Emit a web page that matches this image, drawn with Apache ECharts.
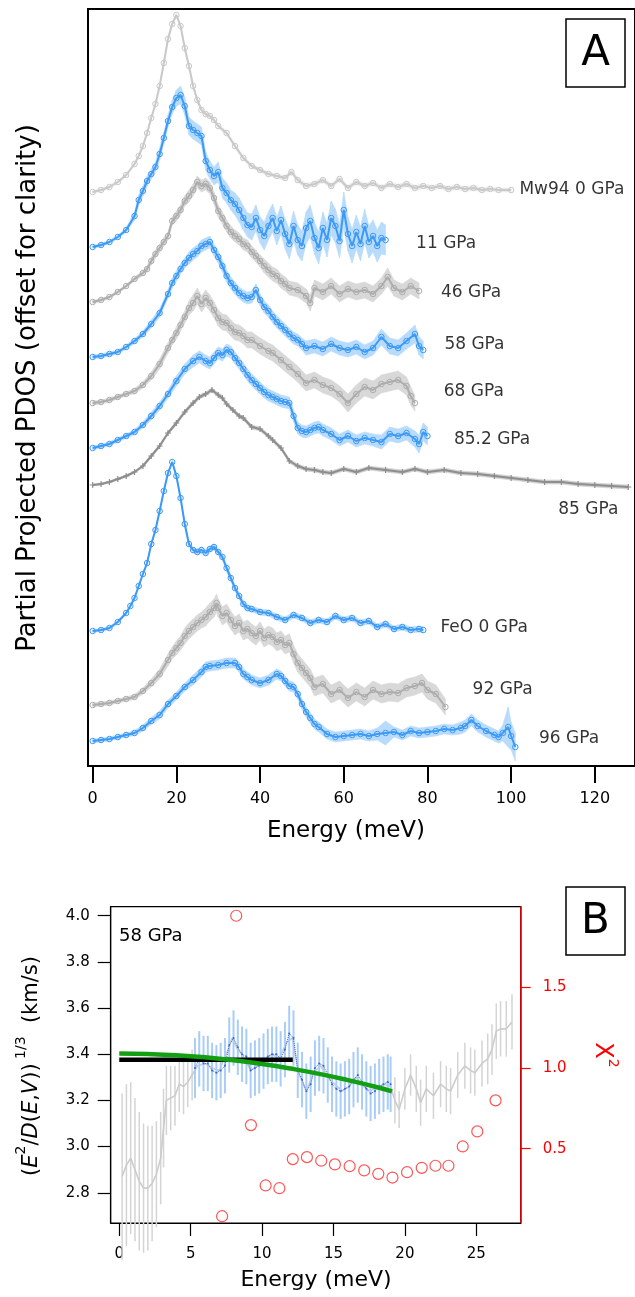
<!DOCTYPE html>
<html><head><meta charset="utf-8">
<script src="https://cdn.jsdelivr.net/npm/echarts@6/dist/echarts.min.js"></script>
<style>html,body{margin:0;padding:0;background:#fff}#c{width:635px;height:1297px}</style>
</head><body><div id="c"></div>
<script>
// ---------- Panel A : PDOS curves, [energy meV, offset value, error] ----------
const xTicksA = [0, 20, 40, 60, 80, 100, 120];
const mw94 = [[0,574,1.5],[2,576,1.5],[4,579,1.5],[6,584,1.5],[8,591,1.5],[10,602,1.5],[11,610,1.5],[12,620,1.5],[13,633,1.5],[14,648,1.5],[15,662,1.5],[16,680,1.5],[17,703,1.5],[18,727,1.5],[19,742,1.5],[20,751,1.5],[21,740,1.5],[22,718,1.5],[23,700,1.5],[24,680,2],[25,666,2],[26,656,2],[27,652,2],[28,650,2],[29,646,2],[30,640,2],[32,633,2],[34,620,2],[36,608,2],[38,600,2],[40,596,2],[42,592,2],[44,590,2],[46,588,2.5],[47.5,594,2.5],[49,586,2.5],[51,580,2.5],[53,582,2.5],[55,586,2.5],[57,580,2.5],[59,587,2.5],[61,578,2.5],[63,584,2.5],[65,580,2.5],[67,583,2.5],[69,578,2.5],[71,582,2.5],[73,579,2.5],[75,582,2.5],[77,578,2.5],[79,580,2.5],[81,578,2.5],[83,580,2.5],[85,577,2.5],[87,579,2.5],[89,577,2.5],[91,578,2.5],[93,576,2],[95,577,2],[97,576,2],[100,576,2]];
const p11 = [[0,519,1.5],[2,521,1.5],[4,524,1.5],[6,529,1.5],[8,536,2],[10,550,4],[11,566,5],[12,575,5],[13,585,5],[14,592,5],[15,599,5],[16,612,6],[17,628,6],[18,645,6],[19,659,7],[20,668,8],[21,671,9],[22,660,9],[23,640,9],[24,636,9],[25,633,9],[26,630,9],[27,605,9],[28,596,9],[29,590,9],[30,594,10],[31,578,10],[32,573,10],[33,566,10],[34,562,11],[35,556,12],[36,548,12],[37,541,12],[38,539,13],[39,548,13],[40,536,13],[41,530,14],[42,540,14],[43,548,14],[44,535,14],[45,546,14],[46,532,15],[47,522,15],[48,540,15],[49,526,15],[50,520,15],[51,538,16],[52,545,16],[53,528,16],[54,518,16],[55,538,16],[56,526,17],[57,548,17],[58,540,17],[59,525,17],[60,556,18],[61,532,17],[62,520,17],[63,534,17],[64,522,17],[65,540,17],[66,524,16],[67,530,16],[68,520,16],[69,528,16],[70,526,15]];
const p46 = [[0,464,1.5],[2,466,1.5],[4,469,1.5],[6,474,1.5],[8,480,1.5],[10,487,2],[12,493,2.5],[13,497,3],[14,505,3.5],[15,512,4],[16,518,4],[17,524,4],[18,530,4],[19,545,4],[20,550,5],[21,556,5],[22,565,5],[23,570,6],[24,576,6],[25,584,6],[26,580,6],[27,582,6],[28,578,6],[29,568,6],[30,555,6],[31,548,6],[32,540,6],[33,534,6],[34,530,6],[35,527,6],[36,522,6],[37,520,6],[38,514,6],[39,510,6],[40,505,6],[41,500,7],[42,496,7],[43,492,7],[44,490,7],[45,485,7],[46,482,7],[47,478,7],[49,476,7],[51,470,7],[52,463,8],[53,478,8],[55,474,8],[57,480,8],[59,472,8],[61,477,8],[63,474,8],[65,476,8],[67,472,8],[69,480,8],[70.5,489,9],[72,478,8],[74,474,8],[76,480,8],[78,475,8]];
const p58 = [[0,409,2],[2,410,2],[4,412,2],[6,414,2],[8,419,2],[10,425,2.5],[12,432,3],[14,442,4],[16,453,4],[18,472,4],[19,483,5],[20,490,5],[21,497,5],[22,503,5],[23,508,6],[24,512,6],[25,515,6],[26,520,6],[27,522,6],[28,524,6],[29,516,6],[30,509,6],[31,500,6],[32,490,6],[33,483,6],[34,478,6],[35,473,6],[36,470,6],[37,468,6],[38,469,6],[39,476,6],[40,466,6],[41,459,6],[42,455,6],[43,449,6],[44,444,6],[45,440,6],[46,436,6],[47,432,6],[48,428,6],[49,426,6],[50,422,6],[51,418,7],[53,420,7],[55,417,7],[57,422,7],[59,418,7],[61,416,7],[63,419,7],[65,414,7],[67,418,7],[69,429,8],[71,420,8],[73,418,8],[75,425,8],[77,432,9],[78,420,9],[79,416,9]];
const p68 = [[0,363,2],[2,364,2],[4,366,2],[6,369,2],[8,372,2],[10,375,2.5],[12,381,3],[14,390,4],[16,402,5],[18,418,5],[19,426,5],[20,433,6],[21,441,6],[22,449,6],[23,458,7],[24,463,8],[25,470,8],[26,462,8],[27,468,8],[28,463,8],[29,456,8],[30,448,8],[31,444,8],[32,443,8],[33,438,8],[34,434,8],[35,433,8],[36,430,8],[37,426,8],[38,426,8],[40,420,8],[42,415,8],[43,413,8],[45,406,8],[47,399,8],[49,392,8],[51,383,8],[53,386,8],[55,381,8],[57,378,8],[59,372,8],[61,363,9],[63,372,9],[65,379,9],[67,376,9],[69,382,9],[71,384,9],[73,386,9],[75,380,9],[76,370,9],[77,363,8]];
const p852 = [[0,318,2],[2,320,2],[4,322,2],[6,326,2],[8,330,2],[10,334,2.5],[12,341,3],[14,350,4],[16,360,4],[18,372,4],[20,385,5],[22,397,5],[24,405,6],[25.5,409,6],[27,405,6],[28,403,6],[29,408,6],[30,413,6],[31,411,6],[32,416,6],[33,414,6],[34,408,6],[35,403,6],[36,397,6],[37,391,6],[38,386,6],[39,382,6],[40,378,6],[41,374,6],[42,371,6],[43,369,6],[44,367,6],[45,365,6],[46,364,6],[47,363,6],[48,350,6],[49,338,6],[50,335,6],[51,334,6],[52,336,6],[53,338,6],[54,339,6],[55,336,6],[57,332,6],[59,326,6],[61,330,6],[63,325,6],[65,328,6],[67,326,6],[69,324,7],[71,332,7],[73,330,7],[75,333,7],[77,327,8],[78,322,9],[79,334,9],[80,330,9]];
const p85 = [[0,281,1],[2,282,1],[4,284,1],[6,287,1],[8,290,1],[10,294,1],[12,300,1.5],[14,310,1.5],[16,320,1.5],[18,333,1.5],[20,343,2],[22,354,2],[24,363,2],[25.5,369,2],[27,372,2],[28.5,376,2],[30,371,2],[31,368,2],[32,362,2],[33.5,356,2],[35,350,2],[36,348,2],[38,339,2],[40,337,2],[42,330,2],[43,326,2],[45,318,2],[47,305,2],[49,300,2],[51,297,2],[53,296,2],[55,294,2],[57,293,2],[60,297,2],[63,294,2],[66,298,2],[70,296,2],[74,294,2],[77,297,2],[80,294,2],[84,296,2],[88,293,2],[92,292,2],[96,290,2],[100,288,2],[104,286,2],[108,284,2],[112,284,2],[116,282,2],[120,281,2],[124,280,2],[128,279,2]];
const feo = [[0,135,1.5],[2,136,1.5],[4,138,1.5],[6,144,1.5],[8,153,1.5],[9,160,1.5],[10,168,1.5],[11,180,1.5],[12,192,1.5],[13,203,1.5],[14,222,1.5],[15,236,1.5],[16,255,1.5],[17,275,1.5],[18,293,1.5],[19,304,1.5],[20,290,1.5],[21,268,1.5],[22,242,2],[23,222,2],[24,216,2.5],[25,214,3],[26,216,3],[27,213,3],[28,217,3],[29,219,3],[30,214,3],[31,209,3],[32,198,3],[33,188,3],[34,178,3],[35,170,3],[36,162,3],[37,158,3],[38,157,3],[40,154,3],[42,153,3],[44,149,3],[46,146,3],[48,151,3],[50,148,3],[52,143,3],[54,146,3],[56,144,3],[58,150,3],[60,146,3],[62,148,3],[64,143,3],[66,145,3],[68,139,3],[70,142,3],[72,137,3],[74,139,3],[76,136,3],[78,137,3],[79,136,3]];
const p92 = [[0,61,2],[2,62,2],[4,63,2],[6,65,2],[8,67,2],[10,69,2.5],[12,75,3],[14,83,4],[16,92,5],[18,106,6],[19,113,6],[20,118,7],[21,123,7],[22,130,8],[23,135,8],[24,139,8],[25,143,8],[26,146,8],[27,149,9],[28,154,9],[29,158,9],[29.6,163,9],[30,158,9],[31,150,9],[32,153,9],[33,146,9],[34,140,9],[35,143,9],[36,135,9],[37,137,9],[38,133,9],[39,130,9],[40,135,9],[41,128,9],[42,131,9],[43,129,9],[44,124,9],[45,126,9],[46,121,9],[47,123,9],[48,112,9],[49,103,9],[50,98,9],[51,93,9],[52,88,9],[53,79,9],[55,82,9],[57,72,9],[59,76,9],[61,68,9],[63,74,9],[65,69,9],[67,76,9],[69,72,9],[71,74,9],[73,73,9],[75,78,9],[77,80,9],[78.7,83,9],[80,76,9],[82,72,9],[84.3,59,8]];
const p96 = [[0,25,2],[2,26,2],[4,27,2],[6,29,2],[8,31,2],[10,33,2.5],[12,38,3],[14,45,3.5],[16,51,4],[18,62,4],[20,70,4],[22,79,4],[24,86,5],[26,94,5],[27,99,5],[28,100,5],[30,101,5],[32,103,5],[34,103,5],[35,99,5],[36,92,5],[37,89,5],[38,86,5],[40,83,5],[42,86,5],[44,92,5],[45,90,5],[46,85,5],[47,80,5],[48,79,5],[49,72,5],[50,62,5],[51,54,5],[52,48,5],[53,42,5],[54,39,5],[56,32,5],[58,29,5],[60,30,5],[62,31,5],[64,32,5],[66,30,5],[68,32,6],[70,33,12],[72,34,5],[74,31,5],[76,35,5],[78,33,5],[80,34,5],[82,35,5],[84,37,5],[86,36,5],[88,38,6],[89,40,6],[90.5,46,6],[92,40,6],[94,35,6],[96,31,6],[97,29,6],[98,33,8],[99.3,39,20],[100,30,14],[101,19,14]];
const labelsA = [[101.98,576,'Mw94 0 GPa'],[77.29,522.7,'11 GPa'],[83.24,473.7,'46 GPa'],[84.05,421.7,'58 GPa'],[83.88,374.3,'68 GPa'],[86.33,326,'85.2 GPa'],[111.26,256.7,'85 GPa'],[83.1,138.3,'FeO 0 GPa'],[90.79,76,'92 GPa'],[106.67,27.7,'96 GPa']];

// ---------- Panel B : sound velocity at 58 GPa ----------
const xTicksB = [0, 5, 10, 15, 20, 25];
const yTicksB = [2.8, 3.0, 3.2, 3.4, 3.6, 3.8, 4.0];
const chiTicks = [0.5, 1.0, 1.5];
const grayB = [[0.2,2.87,0.36],[0.5,2.92,0.35],[0.8,2.95,0.33],[1.1,2.90,0.31],[1.4,2.85,0.30],[1.7,2.82,0.28],[2.0,2.82,0.27],[2.3,2.84,0.25],[2.6,2.88,0.23],[2.9,2.95,0.20],[3.1,3.08,0.17],[3.3,3.20,0.15],[3.6,3.21,0.14],[3.9,3.22,0.13],[4.2,3.27,0.12],[4.5,3.26,0.12],[4.8,3.28,0.11],[5.1,3.31,0.11],[5.5,3.35,0.11],[6.0,3.36,0.11],[6.5,3.34,0.11],[7.0,3.33,0.11],[7.5,3.40,0.11],[7.9,3.47,0.11],[8.3,3.42,0.11],[8.7,3.39,0.11],[9.2,3.33,0.11],[9.7,3.35,0.11],[10.2,3.38,0.11],[10.7,3.40,0.11],[11.2,3.38,0.11],[11.7,3.45,0.11],[12.1,3.47,0.11],[12.6,3.31,0.11],[13.1,3.24,0.11],[13.6,3.32,0.11],[14.1,3.35,0.11],[14.6,3.30,0.11],[15.1,3.27,0.11],[15.6,3.24,0.11],[16.1,3.26,0.11],[16.6,3.30,0.11],[17.1,3.26,0.11],[17.6,3.24,0.11],[18.1,3.26,0.11],[18.6,3.27,0.11],[19.0,3.26,0.10],[19.3,3.20,0.10],[19.6,3.16,0.08],[20.0,3.25,0.09],[20.4,3.31,0.09],[20.8,3.25,0.10],[21.1,3.19,0.10],[21.5,3.25,0.10],[22.0,3.22,0.10],[22.5,3.27,0.10],[22.9,3.25,0.10],[23.2,3.24,0.10],[23.7,3.31,0.10],[24.2,3.35,0.10],[24.6,3.33,0.10],[24.9,3.32,0.10],[25.4,3.36,0.10],[25.8,3.38,0.11],[26.1,3.42,0.11],[26.4,3.50,0.12],[26.7,3.51,0.12],[27.1,3.51,0.12],[27.5,3.54,0.12]];
const blueB = [[5.3,3.34,0.13],[5.6,3.38,0.12],[5.9,3.36,0.12],[6.2,3.36,0.12],[6.5,3.33,0.12],[6.8,3.32,0.12],[7.1,3.33,0.12],[7.4,3.35,0.12],[7.7,3.44,0.12],[8.0,3.47,0.12],[8.3,3.43,0.12],[8.6,3.40,0.12],[8.9,3.39,0.12],[9.2,3.33,0.12],[9.5,3.34,0.12],[9.8,3.35,0.12],[10.1,3.37,0.12],[10.4,3.39,0.12],[10.7,3.40,0.12],[11.0,3.40,0.12],[11.3,3.38,0.12],[11.6,3.42,0.12],[11.9,3.49,0.12],[12.2,3.47,0.12],[12.5,3.33,0.12],[12.8,3.29,0.12],[13.1,3.24,0.12],[13.4,3.27,0.12],[13.7,3.34,0.12],[14.0,3.36,0.12],[14.3,3.35,0.12],[14.6,3.31,0.12],[14.9,3.27,0.12],[15.2,3.25,0.12],[15.5,3.24,0.12],[15.8,3.25,0.12],[16.1,3.26,0.12],[16.4,3.29,0.12],[16.7,3.31,0.12],[17.0,3.28,0.12],[17.3,3.25,0.12],[17.6,3.23,0.12],[17.9,3.24,0.12],[18.2,3.26,0.12],[18.5,3.27,0.12],[18.8,3.28,0.12],[19.0,3.27,0.12]];
const chiE = [7.2,8.19,9.22,10.25,11.21,12.15,13.14,14.14,15.1,16.13,17.15,18.14,19.13,20.15,21.18,22.14,23.05,24.05,25.07,26.35];
const chiV = [0.083,1.94,0.646,0.273,0.256,0.436,0.448,0.426,0.403,0.392,0.366,0.345,0.322,0.355,0.382,0.395,0.395,0.514,0.607,0.799];
const greenFit = [[0,3.403],[2,3.401],[4,3.396],[6,3.387],[8,3.374],[10,3.358],[12,3.338],[14,3.315],[16,3.288],[18,3.258],[19.1,3.239]];
const blackFit = [[0,3.376],[12.15,3.376]];

const FONT = 'DejaVu Sans';
const BLUE = '#3b9af7', BLUEBAND = '#b9dbfb';
const GRAY = '#adadad', GRAYBAND = '#d8d8d8';

function bandRender(arr, fill) {
  return function (params, api) {
    const i = params.dataIndex;
    if (i >= arr.length - 1) return null;
    const a = arr[i], b = arr[i + 1];
    const pts = [api.coord([a[0], a[1] + a[2]]), api.coord([b[0], b[1] + b[2]]),
                 api.coord([b[0], b[1] - b[2]]), api.coord([a[0], a[1] - a[2]])];
    return { type: 'polygon', shape: { points: pts }, style: { fill: fill, stroke: fill, lineWidth: 0.6 } };
  };
}
const plusPath = 'path://M4,0h2v4h4v2h-4v4h-2v-4h-4v-2h4z';
function curve(arr, color, band, symbol, size) {
  return [
    { type: 'custom', xAxisIndex: 0, yAxisIndex: 0, z: 1, silent: true, data: arr,
      encode: { x: 0, y: 1 }, renderItem: bandRender(arr, band) },
    { type: 'line', xAxisIndex: 0, yAxisIndex: 0, z: 2, silent: true,
      data: arr.map(d => [d[0], d[1]]), showAllSymbol: true,
      symbol: symbol || 'circle', symbolSize: size || 5.5,
      lineStyle: { color: color, width: 2 },
      itemStyle: symbol === plusPath ? { color: color } : { color: 'rgba(0,0,0,0)', borderColor: color, borderWidth: 1 } }
  ];
}
function barRender(color, width, filterFn) {
  return function (params, api) {
    const e = api.value(0), v = api.value(1), er = api.value(2);
    if (filterFn && !filterFn(e)) return null;
    const p1 = api.coord([e, v - er]), p2 = api.coord([e, v + er]);
    return { type: 'line', shape: { x1: p1[0], y1: p1[1], x2: p2[0], y2: p2[1] }, style: { stroke: color, lineWidth: width } };
  };
}

const series = [].concat(
  curve(mw94, '#c9c9c9', '#ececec'),
  curve(p11, BLUE, BLUEBAND),
  curve(p46, GRAY, GRAYBAND),
  curve(p58, BLUE, BLUEBAND),
  curve(p68, GRAY, GRAYBAND),
  curve(p852, BLUE, BLUEBAND),
  curve(p85, '#8e8e8e', '#cfcfcf', plusPath, 6),
  curve(feo, BLUE, BLUEBAND),
  curve(p92, GRAY, GRAYBAND),
  curve(p96, BLUE, BLUEBAND),
  [{ type: 'scatter', xAxisIndex: 0, yAxisIndex: 0, symbolSize: 0, silent: true, z: 5,
     data: labelsA.map(d => ({ value: [d[0], d[1]], name: d[2] })),
     label: { show: true, position: 'right', distance: 0, formatter: p => p.name,
              fontFamily: FONT, fontSize: 17, color: '#000', verticalAlign: 'middle' } }],
  [
    { type: 'custom', xAxisIndex: 1, yAxisIndex: 1, z: 1, silent: true, data: grayB, encode: { x: 0, y: 1 },
      renderItem: barRender('#d4d4d4', 1.5, e => e < 5.2 || e > 19.05) },
    { type: 'line', xAxisIndex: 1, yAxisIndex: 1, z: 2, silent: true, data: grayB.map(d => [d[0], d[1]]),
      symbol: 'none', lineStyle: { color: '#cccccc', width: 1.6 } },
    { type: 'custom', xAxisIndex: 1, yAxisIndex: 1, z: 3, silent: true, data: blueB, encode: { x: 0, y: 1 },
      renderItem: barRender('#a9cdf6', 2) },
    { type: 'line', xAxisIndex: 1, yAxisIndex: 1, z: 4, silent: true, data: blueB.map(d => [d[0], d[1]]),
      symbol: 'circle', symbolSize: 2, showAllSymbol: true, itemStyle: { color: '#3567e0' },
      lineStyle: { color: '#3567e0', width: 1, type: 'dotted' } },
    { type: 'line', xAxisIndex: 1, yAxisIndex: 1, z: 5, silent: true, data: blackFit,
      symbol: 'none', lineStyle: { color: '#000', width: 4.5 } },
    { type: 'line', xAxisIndex: 1, yAxisIndex: 1, z: 6, silent: true, data: greenFit,
      symbol: 'none', smooth: true, lineStyle: { color: '#12a012', width: 4.5 } },
    { type: 'scatter', xAxisIndex: 1, yAxisIndex: 2, z: 7, silent: true,
      data: chiE.map((e, i) => [e, chiV[i]]), symbol: 'circle', symbolSize: 11,
      itemStyle: { color: 'rgba(0,0,0,0)', borderColor: '#ff2a2a', borderWidth: 1.2 } }
  ]
);

const chart = echarts.init(document.getElementById('c'), null, { renderer: 'canvas' });
chart.setOption({
  animation: false,
  backgroundColor: '#fff',
  grid: [
    { left: 88, right: -2, top: 9, bottom: 531, show: true, borderColor: '#000', borderWidth: 2, backgroundColor: 'transparent' },
    { left: 110.7, right: 114.3, top: 906.7, bottom: 74, show: true, borderColor: '#000', borderWidth: 1.2, backgroundColor: 'transparent' }
  ],
  xAxis: [
    { gridIndex: 0, type: 'value', min: -1.12, max: 129.6, position: 'bottom',
      axisLine: { onZero: false, lineStyle: { color: '#000', width: 2 } },
      axisTick: { customValues: xTicksA, length: 17, lineStyle: { color: '#000', width: 2 } },
      axisLabel: { customValues: xTicksA, margin: 25, fontSize: 16, fontFamily: FONT, color: '#000' },
      splitLine: { show: false } },
    { gridIndex: 1, type: 'value', min: -0.6, max: 28.11, position: 'bottom',
      axisLine: { onZero: false, lineStyle: { color: '#000', width: 1.2 } },
      axisTick: { customValues: xTicksB, length: 13, lineStyle: { color: '#000', width: 1.2 } },
      axisLabel: { customValues: xTicksB, margin: 24, fontSize: 15, fontFamily: FONT, color: '#000' },
      splitLine: { show: false } }
  ],
  yAxis: [
    { gridIndex: 0, type: 'value', min: 0, max: 757,
      axisLine: { show: true, onZero: false, lineStyle: { color: '#000', width: 2 } },
      axisTick: { show: false }, axisLabel: { show: false }, splitLine: { show: false } },
    { gridIndex: 1, type: 'value', min: 2.669, max: 4.039, position: 'left',
      axisLine: { show: true, onZero: false, lineStyle: { color: '#000', width: 1.2 } },
      axisTick: { show: true, customValues: yTicksB, length: 13, lineStyle: { color: '#000', width: 1.2 } },
      axisLabel: { customValues: yTicksB, margin: 21, fontSize: 15, fontFamily: FONT, color: '#000', formatter: v => v.toFixed(1) },
      splitLine: { show: false } },
    { gridIndex: 1, type: 'value', min: 0.041, max: 1.996, position: 'right',
      axisLine: { show: true, onZero: false, lineStyle: { color: '#ff0000', width: 1.5 } },
      axisTick: { show: true, customValues: chiTicks, length: 10, lineStyle: { color: '#ff0000', width: 1.2 } },
      axisLabel: { customValues: chiTicks, margin: 22, fontSize: 15, fontFamily: FONT, color: '#ff0000', formatter: v => v.toFixed(1) },
      splitLine: { show: false } }
  ],
  graphic: [
    { type: 'text', x: 28, y: 388, rotation: Math.PI / 2, style: { text: 'Partial Projected PDOS (offset for clarity)', font: '26px "DejaVu Sans"', fill: '#000', align: 'center', verticalAlign: 'middle' } },
    { type: 'text', x: 346, y: 831, style: { text: 'Energy (meV)', font: '23px "DejaVu Sans"', fill: '#000', align: 'center', verticalAlign: 'middle' } },
    { type: 'rect', shape: { x: 566, y: 19, width: 59, height: 68 }, style: { fill: 'none', stroke: '#000', lineWidth: 1.5 } },
    { type: 'text', x: 595.5, y: 54, style: { text: 'A', font: '42px "DejaVu Sans"', fill: '#000', align: 'center', verticalAlign: 'middle' } },
    { type: 'rect', shape: { x: 566, y: 887, width: 59, height: 68 }, style: { fill: 'none', stroke: '#000', lineWidth: 1.5 } },
    { type: 'text', x: 595.5, y: 922, style: { text: 'B', font: '42px "DejaVu Sans"', fill: '#000', align: 'center', verticalAlign: 'middle' } },
    { type: 'text', x: 119, y: 936, style: { text: '58 GPa', font: '18px "DejaVu Sans"', fill: '#000', align: 'left', verticalAlign: 'middle' } },
    { type: 'text', x: 316, y: 1280, style: { text: 'Energy (meV)', font: '22px "DejaVu Sans"', fill: '#000', align: 'center', verticalAlign: 'middle' } },
    { type: 'text', x: 28, y: 1066, rotation: Math.PI / 2,
      style: { text: '{p|(}{i|E}{s|2}{p|/}{i|D}{p|(}{i|E}{p|,}{i|V}{p|))}{s| 1/3}{p|  (km/s)}', align: 'center', verticalAlign: 'middle', fill: '#000',
        rich: { p: { fontFamily: FONT, fontSize: 21, lineHeight: 28, verticalAlign: 'bottom' },
                i: { fontFamily: FONT, fontSize: 21, fontStyle: 'italic', lineHeight: 28, verticalAlign: 'bottom' },
                s: { fontFamily: FONT, fontSize: 14, lineHeight: 16, verticalAlign: 'top' } } } },
    { type: 'text', x: 605, y: 1055, rotation: -Math.PI / 2,
      style: { text: '{x|X}{s|2}', align: 'center', verticalAlign: 'middle', fill: '#ff0000',
        rich: { x: { fontFamily: FONT, fontSize: 24, lineHeight: 30, verticalAlign: 'bottom', color: '#ff0000' },
                s: { fontFamily: FONT, fontSize: 14, lineHeight: 16, verticalAlign: 'top', color: '#ff0000' } } } }
  ],
  series: series
});
</script>
</body></html>
